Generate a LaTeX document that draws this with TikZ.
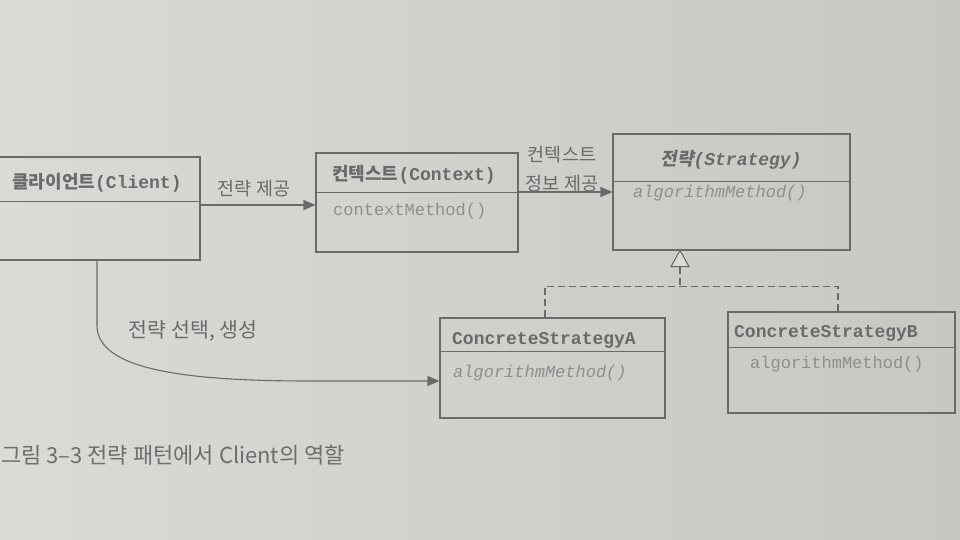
\documentclass[tikz,border=0pt]{standalone}
\usepackage{fontspec}
\setmonofont{Liberation Mono}
\newfontfamily\kr{Noto Sans CJK KR}
\newfontfamily\krsl[FakeSlant=0.2]{Noto Sans CJK KR}
\usetikzlibrary{arrows.meta,calc}
\definecolor{bgL}{HTML}{DADAD6}
\definecolor{bgR}{HTML}{C8C7C2}
\definecolor{ink}{HTML}{6A6A6A}
\definecolor{inkl}{HTML}{8E8E8E}
\definecolor{capc}{HTML}{6E6E6E}
\tikzset{
  cls/.style={draw=ink, line width=1.1pt, rectangle, inner sep=0pt},
  ln/.style={draw=ink, line width=1.1pt},
  arr/.style={ln, -{Triangle[length=12pt,width=10pt]}},
  dsh/.style={ln, dash pattern=on 7pt off 4pt},
  ttl/.style={text=ink, font=\fontsize{18}{21}\selectfont, inner sep=0pt},
  mth/.style={text=inkl, font=\ttfamily\fontsize{17}{19}\selectfont, anchor=west, inner sep=0pt},
  lbl/.style={text=ink, font=\kr\fontsize{18.5}{21}\selectfont, inner sep=0pt},
  captxt/.style={text=capc, font=\kr\fontsize{22}{26}\selectfont, inner sep=0pt, anchor=west},
}
\begin{document}
\begin{tikzpicture}[x=1pt,y=-1pt]
\useasboundingbox (0,0) rectangle (960,540);
\shade[left color=bgL, right color=bgR] (0,0) rectangle (960,540);

% class boxes
\node[cls, minimum width=222pt, minimum height=103pt] (client) at (89,208.5) {};
\node[cls, minimum width=202pt, minimum height=99pt] (context) at (417,202.5) {};
\node[cls, minimum width=237pt, minimum height=116pt] (strategy) at (731.5,192) {};
\node[cls, minimum width=225pt, minimum height=100pt] (ca) at (552.5,368) {};
\node[cls, minimum width=227pt, minimum height=101pt] (cb) at (841.5,362.5) {};

% dividers
\draw[ln] ($(client.north west)+(0,45)$) -- ($(client.north east)+(0,45)$);
\draw[ln] ($(context.north west)+(0,40)$) -- ($(context.north east)+(0,40)$);
\draw[ln] ($(strategy.north west)+(0,48)$) -- ($(strategy.north east)+(0,48)$);
\draw[ln] ($(ca.north west)+(0,34)$) -- ($(ca.north east)+(0,34)$);
\draw[ln] ($(cb.north west)+(0,36)$) -- ($(cb.north east)+(0,36)$);

% titles
\node[ttl] (clientT) at (97,183) {{\kr\bfseries 클라이언트}{\ttfamily\bfseries (Client)}};
\node[ttl] (contextT) at (414,175) {{\kr\bfseries 컨텍스트}{\ttfamily\bfseries (Context)}};
\node[ttl] (strategyT) at (731,160) {{\krsl\bfseries 전략}{\ttfamily\bfseries\itshape (Strategy)}};
\node[ttl] (caT) at (544,340) {{\ttfamily\bfseries ConcreteStrategyA}};
\node[ttl] (cbT) at (826,333) {{\ttfamily\bfseries ConcreteStrategyB}};

% methods
\node[mth] (contextM) at (333,211) {contextMethod()};
\node[mth] (strategyM) at (633,193) {\itshape algorithmMethod()};
\node[mth] (caM) at (453,373) {\itshape algorithmMethod()};
\node[mth] (cbM) at (750,364) {algorithmMethod()};

% client -> context
\coordinate (c1) at ([yshift=3.5pt]client.east);
\draw[arr] (c1) -- (c1 -| context.west);
\node[lbl] (l1) at (254,189) {전략 제공};

% context -> strategy
\coordinate (c2) at ([yshift=10.5pt]context.east);
\draw[arr] (c2) -- (c2 -| strategy.west);
\node[lbl] (l2a) at (562,155) {컨텍스트};
\node[lbl] (l2b) at (562,184) {정보 제공};

% client -> ConcreteStrategyA
\coordinate (cs) at ([xshift=8pt]client.south);
\coordinate (caIn) at ([yshift=-13pt]ca.west);
\draw[arr] (cs) -- ($(cs)+(0,65)$) .. controls ($(cs)+(0,110)$) and ($(caIn)+(-250,0)$) .. ($(caIn)+(-130,0)$) -- (caIn);
\node[lbl, font=\kr\fontsize{20.5}{24}\selectfont] (l3) at (193,331) {전략 선택, 생성};

% realization
\coordinate (apex) at ([xshift=-51.5pt]strategy.south);
\coordinate (tb) at ($(apex)+(0,16)$);
\coordinate (j) at ($(apex)+(0,36)$);
\coordinate (aTop) at ([xshift=-7.5pt]ca.north);
\coordinate (bTop) at ([xshift=-3.5pt]cb.north);
\draw[dsh] (tb) -- (j);
\draw[dsh] (aTop) |- (j);
\draw[dsh] (bTop) |- (j);
\draw[ln, fill=bgL, line join=miter] (apex) -- ($(apex)+(-9,16)$) -- ($(apex)+(9,16)$) -- cycle;

% caption
\node[captxt] (caption) at (1,455) {그림 3–3 전략 패턴에서 Client의 역할};
\end{tikzpicture}
\end{document}
